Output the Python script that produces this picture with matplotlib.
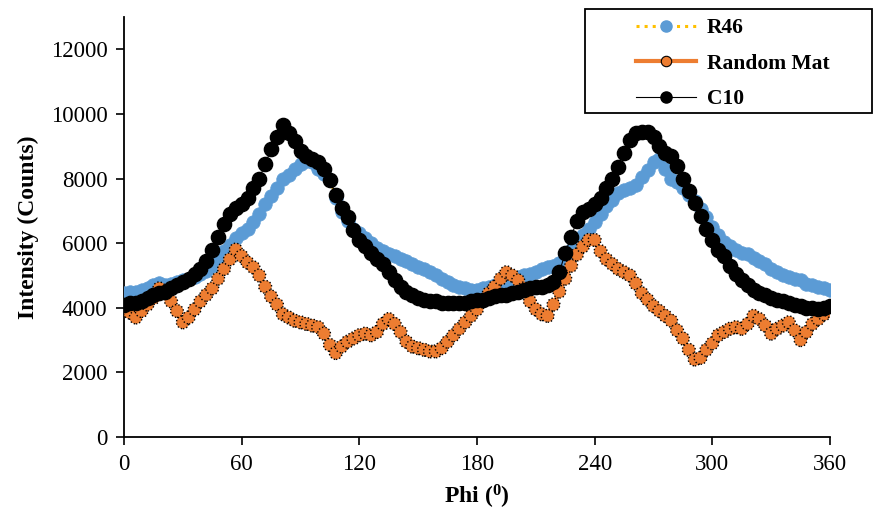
import matplotlib
matplotlib.use("Agg")
import matplotlib.pyplot as plt
from matplotlib.patches import Rectangle
from matplotlib.lines import Line2D
import numpy as np

plt.rcParams['font.family'] = ['Liberation Serif', 'DejaVu Serif']
plt.rcParams['mathtext.fontset'] = 'custom'
plt.rcParams['mathtext.rm'] = 'Liberation Serif'
plt.rcParams['mathtext.bf'] = 'Liberation Serif:bold'

phi = list(range(0, 361, 3))

r46 = [4450, 4480, 4500, 4550, 4600, 4700, 4780, 4720, 4750, 4800,
       4850, 4900, 4950, 5050, 5150, 5300, 5500, 5750, 5950, 6150,
       6300, 6450, 6650, 6900, 7200, 7450, 7700, 8000, 8100, 8300,
       8450, 8550, 8500, 8300, 8150, 7950, 7400, 6950, 6700, 6450,
       6300, 6150, 6000, 5850, 5750, 5650, 5600, 5500, 5450, 5350,
       5250, 5200, 5100, 5000, 4900, 4800, 4700, 4650, 4600, 4550,
       4550, 4600, 4650, 4700, 4750, 4800, 4900, 4950, 5000, 5050,
       5100, 5200, 5250, 5300, 5400, 5550, 5800, 6050, 6250, 6450,
       6650, 6900, 7150, 7350, 7550, 7650, 7700, 7800, 8050, 8250,
       8500, 8600, 8300, 8000, 7900, 7700, 7500, 7300, 7050, 6800,
       6500, 6250, 6050, 5900, 5800, 5700, 5650, 5550, 5450, 5350,
       5200, 5100, 5000, 4950, 4900, 4850, 4750, 4700, 4650, 4600,
       4550]

random_mat = [3950, 3850, 3700, 3900, 4100, 4300, 4600, 4500, 4200, 3900,
              3550, 3700, 3950, 4200, 4400, 4600, 4900, 5200, 5500, 5800,
              5600, 5400, 5250, 5000, 4650, 4350, 4100, 3800, 3700, 3600,
              3550, 3500, 3450, 3400, 3200, 2850, 2600, 2800, 2950, 3050,
              3150, 3200, 3150, 3250, 3500, 3650, 3500, 3250, 2950, 2800,
              2750, 2700, 2650, 2650, 2750, 2950, 3150, 3350, 3550, 3750,
              3950, 4200, 4450, 4650, 4900, 5100, 5000, 4850, 4600, 4200,
              3950, 3800, 3750, 4100, 4500, 4900, 5300, 5650, 5900, 6100,
              6100, 5750, 5500, 5350, 5200, 5100, 5000, 4750, 4450, 4250,
              4050, 3900, 3750, 3600, 3300, 3050, 2700, 2400, 2450, 2700,
              2900, 3150, 3250, 3350, 3400, 3350, 3500, 3750, 3650, 3450,
              3200, 3350, 3450, 3550, 3300, 3000, 3250, 3500, 3650, 3800,
              3900]

c10 = [4100, 4150, 4150, 4200, 4300, 4400, 4450, 4500, 4600, 4700,
       4800, 4900, 5050, 5200, 5450, 5800, 6200, 6600, 6900, 7100,
       7200, 7400, 7700, 8000, 8450, 8900, 9300, 9650, 9400, 9150,
       8850, 8700, 8600, 8500, 8300, 7950, 7500, 7100, 6800, 6400,
       6100, 5900, 5700, 5500, 5350, 5100, 4850, 4650, 4500, 4400,
       4300, 4250, 4200, 4200, 4150, 4150, 4150, 4150, 4150, 4200,
       4250, 4250, 4300, 4350, 4400, 4400, 4450, 4500, 4550, 4600,
       4650, 4650, 4700, 4800, 5100, 5700, 6200, 6700, 6950, 7050,
       7200, 7400, 7700, 8000, 8350, 8800, 9200, 9400, 9450, 9450,
       9300, 9000, 8800, 8700, 8400, 8000, 7600, 7250, 6850, 6450,
       6100, 5800, 5600, 5300, 5050, 4850, 4700, 4550, 4450, 4400,
       4300, 4250, 4200, 4150, 4100, 4050, 4000, 4000, 3950, 4000,
       4050]

series_names = ["R46", "Random Mat", "C10"]
x_ticks = [0, 60, 120, 180, 240, 300, 360]
y_ticks = [0, 2000, 4000, 6000, 8000, 10000, 12000]

BLUE = "#5B9BD5"
YELLOW = "#FFC000"
ORANGE = "#ED7D31"

fig = plt.figure(figsize=(8.73, 5.11), dpi=100)
ax = fig.add_axes([124/873, 1-437/511, (830-124)/873, (437-17)/511])

# R46
ax.plot(phi, r46, color=YELLOW, linestyle=':', linewidth=1.5, zorder=2)
ax.scatter(phi, r46, s=95, color=BLUE, edgecolors=BLUE, linewidths=0.5, zorder=3)
# Random Mat
ax.plot(phi, random_mat, color=ORANGE, linestyle='-', linewidth=3, zorder=4)
ax.scatter(phi, random_mat, s=85, facecolors=ORANGE, edgecolors='black',
           linewidths=1.0, linestyles=(0, (1, 1.5)), zorder=5)
# C10
ax.plot(phi, c10, color='black', linestyle='-', linewidth=0.8, zorder=6)
ax.scatter(phi, c10, s=105, color='black', zorder=7)

ax.set_xlim(0, 360)
ax.set_ylim(0, 13000)
ax.set_xticks(x_ticks)
ax.set_yticks(y_ticks)
ax.set_xticklabels([str(t) for t in x_ticks])
ax.set_yticklabels([str(t) for t in y_ticks])
ax.tick_params(direction='out', length=6, width=1.2, labelsize=16.5, colors='black', pad=6)
for s in ['top', 'right']:
    ax.spines[s].set_visible(False)
for s in ['left', 'bottom']:
    ax.spines[s].set_linewidth(1.3)
    ax.spines[s].set_color('black')

ax.set_ylabel("Intensity (Counts)", fontsize=17, fontweight='bold', labelpad=8)
ax.set_xlabel(r"Phi ($\mathbf{^{0}}$)", fontsize=17, fontweight='bold', labelpad=6)

# legend
rect = Rectangle((585/873, 1-113/511), (872-585)/873, (113-9)/511,
                 transform=fig.transFigure, facecolor='white', edgecolor='black',
                 linewidth=1.3, zorder=10)
fig.patches.append(rect)
handles = [
    Line2D([], [], color=YELLOW, linestyle=':', linewidth=2.2, marker='o',
           markersize=8, markerfacecolor=BLUE, markeredgecolor=BLUE),
    Line2D([], [], color=ORANGE, linestyle='-', linewidth=3, marker='o',
           markersize=7.5, markerfacecolor=ORANGE, markeredgecolor='black',
           markeredgewidth=0.8),
    Line2D([], [], color='black', linestyle='-', linewidth=0.8, marker='o',
           markersize=8, markerfacecolor='black', markeredgecolor='black'),
]
leg = fig.legend(handles, series_names, loc='upper left',
                 bbox_to_anchor=(636/873, 1-18/511), frameon=False,
                 prop={'family': 'Liberation Serif', 'weight': 'bold', 'size': 15.5},
                 handlelength=2.8, labelspacing=0.72, handletextpad=0.5,
                 borderaxespad=0, borderpad=0)
leg.set_zorder(11)

fig.savefig("out.png", dpi=100)
